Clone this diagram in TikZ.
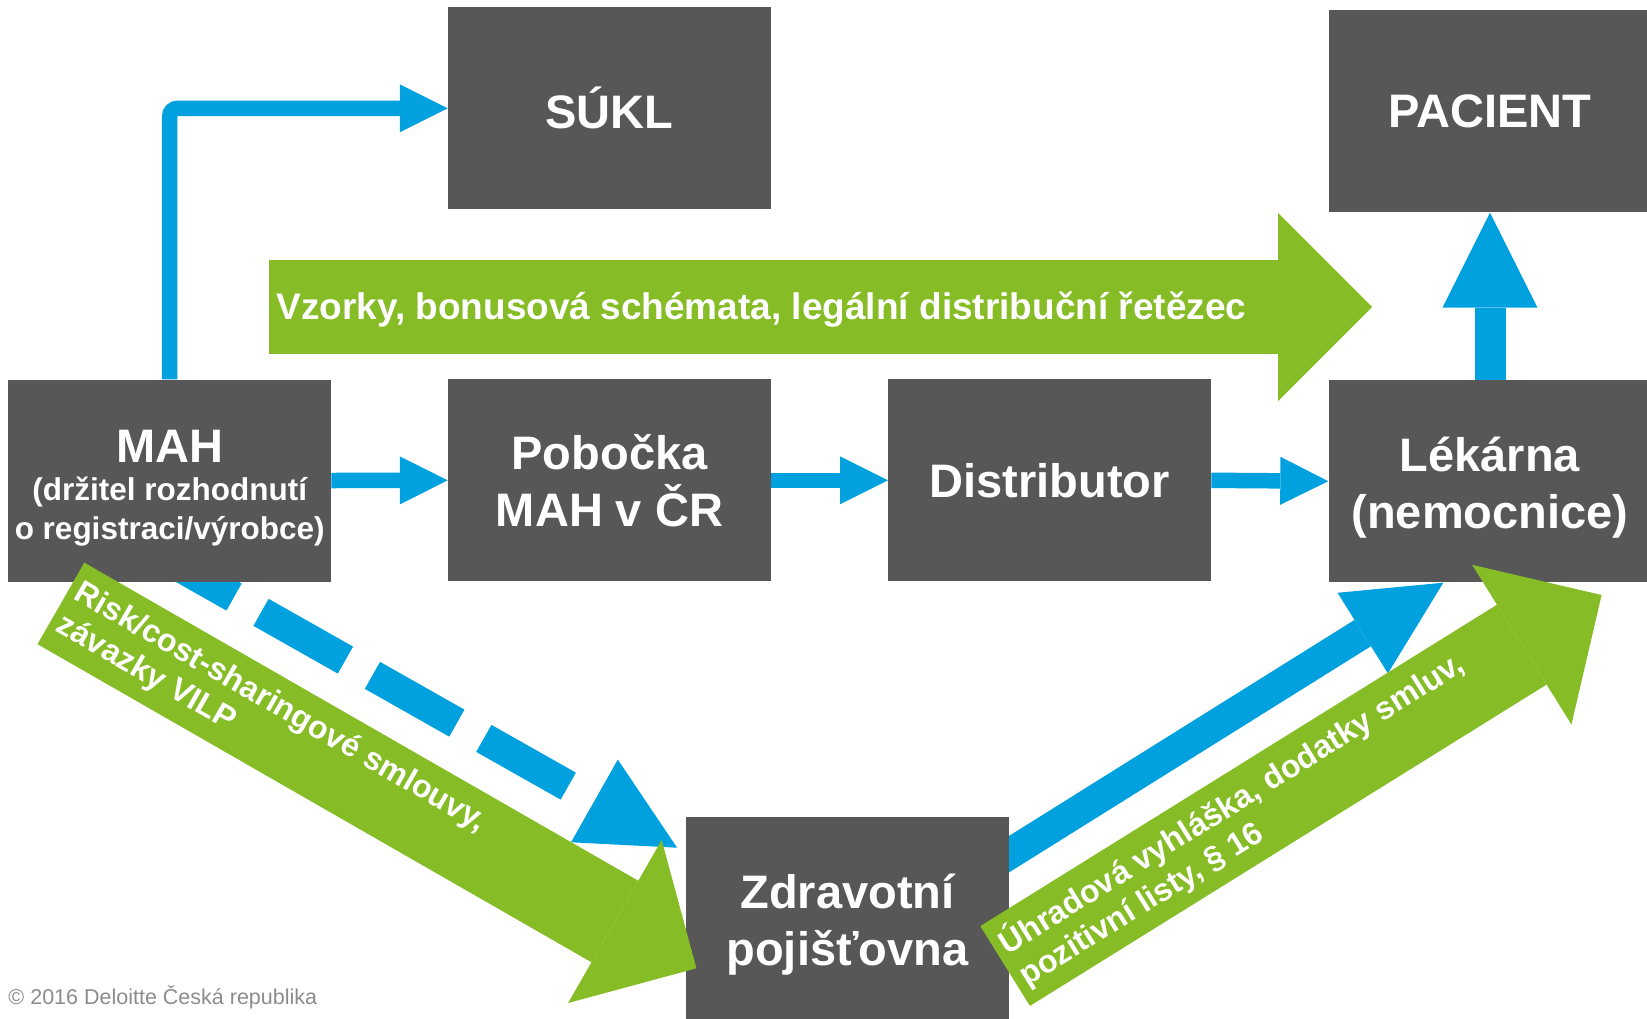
\documentclass[tikz,border=0pt]{standalone}
\usepackage{fontspec}
\setmainfont{Liberation Sans}
\usetikzlibrary{arrows.meta,backgrounds}
\definecolor{boxgray}{HTML}{575757}
\definecolor{dblue}{HTML}{00A1DE}
\definecolor{dgreen}{HTML}{86BC25}
\definecolor{notegray}{HTML}{8C8C8C}
\tikzset{
  entity/.style={fill=boxgray, text=white, inner sep=0pt,
    minimum width=323pt, minimum height=202pt, align=center,
    font=\bfseries\fontsize{47}{57}\selectfont},
  thinflow/.style={dblue, line width=15.5pt,
    -{Triangle[length=48pt,width=48pt,line width=0pt]}},
  thickflow/.style={dblue, line width=31pt,
    -{Triangle[length=95pt,width=95pt,line width=0pt]}},
  greenflow/.style={dgreen, line width=94pt,
    -{Triangle[length=94pt,width=188pt,line width=0pt]}},
  flowtext/.style={text=white, inner xsep=8pt, inner ysep=0pt, outer sep=0pt,
    align=left, font=\bfseries\fontsize{32}{37}\selectfont}
}
\begin{document}
\begin{tikzpicture}[x=1pt, y=-1pt]
  \useasboundingbox (0,0) rectangle (1647,1018);
  % boxes
  \node[entity] (sukl) at (609.5,108.3) {SÚKL};
  \node[entity] (pac)  at (1490,111.4) {PACIENT};
  \node[entity, font=\bfseries\fontsize{31.5}{39}\selectfont] (mah) at (169.7,480.5)
    {{\fontsize{47}{47}\selectfont\rule{0pt}{48pt}MAH}\\[-1pt](držitel rozhodnutí\\o registraci/výrobce)};
  \node[entity] (pob)  at (609.5,480.3) {Pobočka\\MAH v ČR};
  \node[entity] (dist) at (1049.7,480.3) {Distributor};
  \node[entity] (lek)  at (1490,481.2) {\rule{0pt}{47pt}Lékárna\\(nemocnice)};
  \node[entity] (zdr)  at (847.5,918.3) {\rule{0pt}{47pt}Zdravotní\\pojišťovna};
  % free ends
  \coordinate (mahout) at (149.6,549.3);
  \coordinate (zdrin)  at (677.1,847.7);
  \coordinate (zdrout) at (960,884.8);
  \coordinate (lekin)  at (1443.3,582.7);
  \coordinate (g1a) at (268.5,307);
  \coordinate (g1b) at (1372,307);
  \coordinate (g2a) at (60.9,603.4);
  \coordinate (g2b) at (696.4,968.3);
  \coordinate (g3a) at (1005.1,966);
  \coordinate (g3b) at (1601.6,595);
  % blue flows
  \begin{scope}[on background layer]
    \draw[thinflow, rounded corners=8pt] (mah.north) |- (sukl.west);
    \draw[thinflow] (mah.east) -- (pob.west);
    \draw[thinflow] (pob.east) -- (dist.west);
    \draw[thinflow] (dist.east) -- (lek.west);
    \draw[thickflow] (lek.north) -- (pac.south);
    \draw[thickflow] (zdrout) -- (lekin);
    \draw[thickflow, dash pattern=on 97pt off 31pt] (mahout) -- (zdrin);
  \end{scope}
  % green flows
  \draw[greenflow] (g1a) -- node[flowtext, pos=0, anchor=west, yshift=-3pt,
    font=\bfseries\fontsize{37}{40}\selectfont]
    {Vzorky, bonusová schémata, legální distribuční řetězec} (g1b);
  \draw[greenflow] (g2a) -- node[flowtext, pos=0, anchor=west, sloped]
    {Risk/cost-sharingové smlouvy,\\závazky VILP} (g2b);
  \draw[greenflow] (g3a) -- node[flowtext, pos=0, anchor=west, sloped]
    {Úhradová vyhláška, dodatky smluv,\\pozitivní listy, § 16} (g3b);
  \node[anchor=base west, inner sep=0pt, text=notegray,
    font=\fontsize{21.5}{24}\selectfont] (copy) at (8.3,1004)
    {© 2016 Deloitte Česká republika};
\end{tikzpicture}
\end{document}
